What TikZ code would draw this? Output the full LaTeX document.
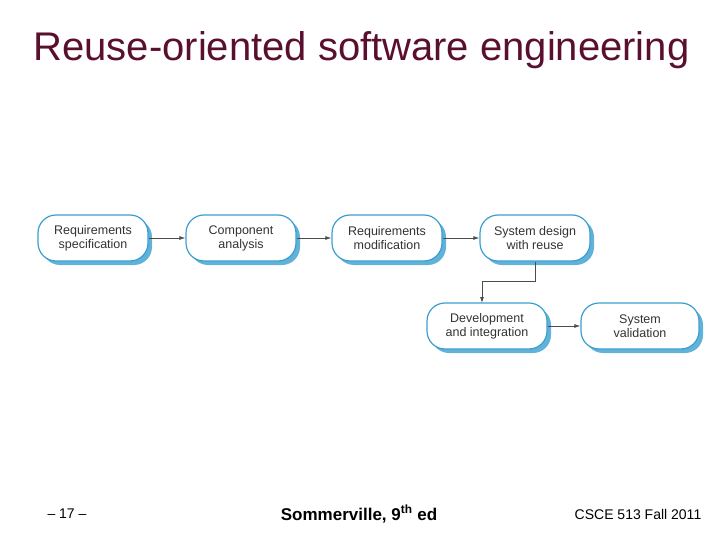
\documentclass[tikz,border=0pt]{standalone}
\usepackage{fontspec}
\setmainfont{Liberation Sans}
\usetikzlibrary{shadows,arrows.meta}
\definecolor{titlec}{HTML}{5A0F2E}
\definecolor{boxc}{HTML}{3A9FD0}
\begin{document}
\begin{tikzpicture}[x=1pt,y=-1pt,
 proc/.style={draw=boxc,line width=1.2pt,fill=white,rounded corners=18pt,minimum width=110pt,minimum height=46pt,align=center,font=\fontsize{12.5}{14}\selectfont,text=black!80,
  drop shadow={shadow xshift=4pt,shadow yshift=-4pt,fill=boxc!80,opacity=1}},
 conn/.style={draw=black!70,line width=0.8pt,-{Latex[length=6pt,width=4pt]}}]
\useasboundingbox (0,0) rectangle (720,540);
\node[text=titlec,font=\fontsize{40}{42}\selectfont,anchor=west] (title) at (30,50) {Reuse-oriented software engineering};
\node[proc] (a) at (93,238) {Requirements\\specification};
\node[proc] (b) at (241,238) {Component\\analysis};
\node[proc] (c) at (387,238) {Requirements\\modification};
\node[proc] (d) at (535,238) {System design\\with reuse};
\node[proc,minimum width=120pt] (e) at (487,326) {Development\\and integration};
\node[proc,minimum width=118pt] (f) at (640,326) {System\\validation};
\draw[conn] (a) -- (b);
\draw[conn] (b) -- (c);
\draw[conn] (c) -- (d);
\draw[conn] (d.south) -- ++(0,20) -| (482,303);
\draw[conn] (e) -- (f);
\node[font=\fontsize{14}{16}\selectfont,anchor=west] (p) at (44,514) {– 17 –};
\node[font=\bfseries\fontsize{17}{19}\selectfont] (s) at (359,514) {Sommerville, 9\textsuperscript{th} ed};
\node[font=\fontsize{14}{16}\selectfont] (k) at (638,514) {CSCE 513 Fall 2011};
\end{tikzpicture}
\end{document}
